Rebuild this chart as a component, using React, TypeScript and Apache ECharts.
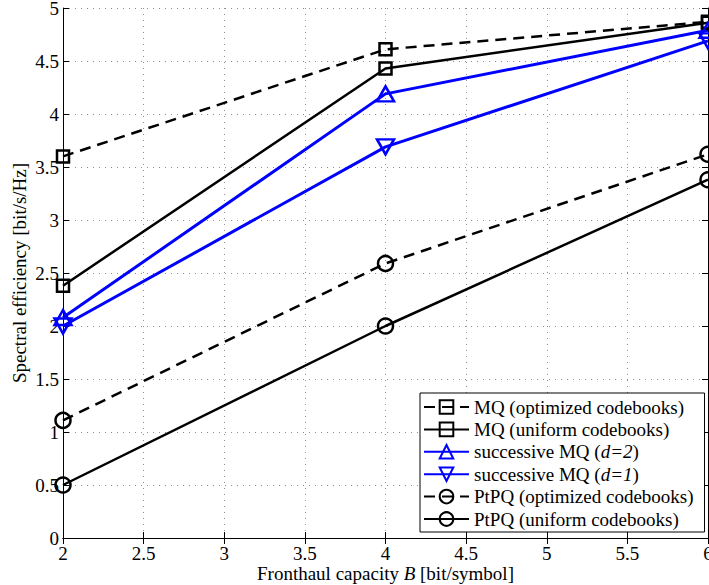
import React, { useEffect, useRef } from "react";
import * as echarts from "echarts";

const xValues = [2, 4, 6];
const mqOptimized = [3.6, 4.61, 4.87];
const mqUniform = [2.38, 4.43, 4.86];
const successiveD2 = [2.08, 4.19, 4.79];
const successiveD1 = [2.0, 3.69, 4.69];
const ptpqOptimized = [1.11, 2.59, 3.62];
const ptpqUniform = [0.5, 2.0, 3.38];

const seriesNames = [
  "MQ (optimized codebooks)",
  "MQ (uniform codebooks)",
  "successive MQ (d=2)",
  "successive MQ (d=1)",
  "PtPQ (optimized codebooks)",
  "PtPQ (uniform codebooks)",
];

const FONT = "Liberation Serif";
const FS = 19;
const BLUE = "#0000ff";
const BLACK = "#000000";
const DOWN_TRI = "path://M0,0 L2,0 L1,1.75 Z";

function pairs(ys: number[]) {
  return xValues.map((x, i) => [x, ys[i]]);
}

function mkSeries(
  name: string,
  ys: number[],
  color: string,
  dashed: boolean,
  symbol: string,
  symbolSize: number | number[],
  width: number
) {
  return {
    type: "line",
    name,
    data: pairs(ys),
    symbol,
    symbolSize,
    clip: false,
    lineStyle: { color, width, type: dashed ? [11, 7] : "solid" },
    itemStyle: { color: "rgba(0,0,0,0)", borderColor: color, borderWidth: 2.5 },
    emphasis: { disabled: true },
    z: 3,
  };
}

export default function App() {
  const ref = useRef<HTMLDivElement>(null);
  useEffect(() => {
    if (!ref.current) return;
    const chart = echarts.init(ref.current, undefined, { renderer: "svg" });
    const tickLabel = { fontFamily: FONT, fontSize: FS, color: BLACK };
    const richText = {
      n: { fontFamily: FONT, fontSize: FS, color: BLACK },
      i: { fontFamily: FONT, fontSize: FS, color: BLACK, fontStyle: "italic" },
    };
    const grid = { show: true, lineStyle: { color: "#909090", type: [1, 5], width: 1 } };
    chart.setOption({
      animation: false,
      backgroundColor: "#ffffff",
      grid: { left: 63, right: 1, top: 8, bottom: 47, containLabel: false, outerBoundsMode: "none" },
      xAxis: [
        {
          type: "value",
          min: 2,
          max: 6,
          interval: 0.5,
          position: "bottom",
          axisLine: { show: true, lineStyle: { color: BLACK, width: 1 } },
          axisTick: { show: true, inside: true, length: 6, lineStyle: { color: BLACK } },
          axisLabel: { ...tickLabel, margin: 6 },
          splitLine: grid,
          name: "{n|Fronthaul capacity }{i|B}{n| [bit/symbol]}",
          nameLocation: "middle",
          nameGap: 26,
          nameMoveOverlap: false,
          nameTextStyle: { ...tickLabel, rich: richText },
        },
        {
          type: "value",
          min: 2,
          max: 6,
          interval: 0.5,
          position: "top",
          axisLine: { show: true, lineStyle: { color: BLACK, width: 1 } },
          axisTick: { show: true, inside: true, length: 6, lineStyle: { color: BLACK } },
          axisLabel: { show: false },
          splitLine: { show: false },
        },
      ],
      yAxis: [
        {
          type: "value",
          min: 0,
          max: 5,
          interval: 0.5,
          position: "left",
          axisLine: { show: true, lineStyle: { color: BLACK, width: 1 } },
          axisTick: { show: true, inside: true, length: 6, lineStyle: { color: BLACK } },
          axisLabel: { ...tickLabel, margin: 4 },
          splitLine: grid,
          name: "Spectral efficiency [bit/s/Hz]",
          nameLocation: "middle",
          nameGap: 34,
          nameMoveOverlap: false,
          nameTextStyle: { ...tickLabel },
        },
        {
          type: "value",
          min: 0,
          max: 5,
          interval: 0.5,
          position: "right",
          axisLine: { show: true, lineStyle: { color: BLACK, width: 1 } },
          axisTick: { show: true, inside: true, length: 6, lineStyle: { color: BLACK } },
          axisLabel: { show: false },
          splitLine: { show: false },
        },
      ],
      legend: {
        data: seriesNames,
        orient: "vertical",
        left: 420,
        top: 393,
        padding: [4.5, 11, 3.5, 3],
        itemGap: 3.4,
        itemWidth: 45,
        itemHeight: 17,
        backgroundColor: "#ffffff",
        borderColor: BLACK,
        borderWidth: 1,
        selectedMode: false,
        textStyle: { ...tickLabel, rich: richText },
        formatter: (name: string) => {
          const m = name.match(/^(.*\()(d=\d)(\))$/);
          if (m) return `{n|${m[1]}}{i|${m[2]}}{n|${m[3]}}`;
          return `{n|${name}}`;
        },
      },
      series: [
        mkSeries(seriesNames[0], mqOptimized, BLACK, true, "rect", 12, 2.5),
        mkSeries(seriesNames[1], mqUniform, BLACK, false, "rect", 12, 2.5),
        mkSeries(seriesNames[2], successiveD2, BLUE, false, "triangle", [17, 15], 3),
        mkSeries(seriesNames[3], successiveD1, BLUE, false, DOWN_TRI, [17, 15], 3),
        mkSeries(seriesNames[4], ptpqOptimized, BLACK, true, "circle", 15, 2.5),
        mkSeries(seriesNames[5], ptpqUniform, BLACK, false, "circle", 15, 2.5),
      ],
    });
    return () => chart.dispose();
  }, []);
  return (
    <div
      ref={ref}
      style={{ position: "fixed", left: 0, top: 0, width: 709, height: 585, background: "#fff" }}
    />
  );
}
